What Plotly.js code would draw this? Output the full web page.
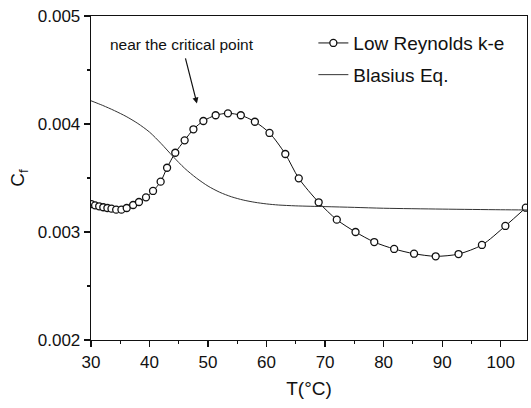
<!DOCTYPE html>
<html>
<head>
<meta charset="utf-8">
<script src="https://cdn.plot.ly/plotly-3.0.1.min.js"></script>
<style>html,body{margin:0;padding:0;background:#fff;}#chart{width:531px;height:408px;}</style>
</head>
<body>
<div id="chart"></div>
<script>
// Low Reynolds k-e model
var lowReT = [30.05, 30.7, 31.4, 32.1, 32.8, 33.5, 34.3, 35.2, 36.1, 37.2, 38.2, 39.4, 40.6, 41.9,
  43.0, 44.4, 46.0, 47.5, 49.2, 51.3, 53.4, 55.6, 58.0, 60.5, 63.2, 65.5, 68.9, 72.0, 75.2,
  78.4, 81.8, 85.2, 88.9, 92.8, 96.8, 100.8, 104.3];
var lowReCf = [0.003259, 0.003247, 0.003238, 0.003229, 0.003222, 0.003216, 0.003207, 0.003207,
  0.003222, 0.003250, 0.003278, 0.003321, 0.003380, 0.003466, 0.003595, 0.003734, 0.003849,
  0.003951, 0.004028, 0.004081, 0.004099, 0.004081, 0.004021, 0.003917, 0.003722, 0.003497,
  0.003275, 0.003114, 0.003000, 0.002907, 0.002843, 0.002799, 0.002775, 0.002796, 0.002880,
  0.003056, 0.003225];

// Blasius equation curve
var blasT = [30, 32, 34, 36, 38, 40, 42, 44, 46, 48, 50, 52, 54, 56, 58, 60, 62, 65, 70, 75, 80, 90, 100, 104.5];
var blasCf = [0.004215, 0.004172, 0.004124, 0.004070, 0.004005, 0.003925, 0.003818, 0.003700,
  0.003590, 0.003500, 0.003425, 0.003368, 0.003326, 0.003296, 0.003275, 0.003260, 0.003250,
  0.003242, 0.003235, 0.003228, 0.003220, 0.003212, 0.003206, 0.003204];

var seriesNames = ["Low Reynolds k-e", "Blasius Eq."];
var xTitle = "T(°C)";
var yTitle = "C<sub>f</sub>";
var noteText = "near the critical point";

var FONT = "Liberation Sans, Arial, Helvetica, sans-serif";

var traces = [
  {
    x: lowReT, y: lowReCf, name: seriesNames[0], type: "scatter", mode: "lines+markers",
    legendgroup: "a",
    line: {color: "#111", width: 1, shape: "spline", smoothing: 0.8},
    marker: {symbol: "circle", size: 7, color: "#fff", line: {color: "#111", width: 1.3}}
  },
  {
    x: blasT, y: blasCf, name: seriesNames[1], type: "scatter", mode: "lines",
    legendgroup: "b",
    line: {color: "#333", width: 1, shape: "spline", smoothing: 0.8}
  }
];

var layout = {
  width: 531, height: 408,
  margin: {l: 91, r: 4, t: 16, b: 68},
  paper_bgcolor: "#fff", plot_bgcolor: "#fff",
  font: {family: FONT, size: 17, color: "#111"},
  showlegend: true,
  legend: {
    x: 0.51, y: 0.975, xanchor: "left", yanchor: "top",
    bgcolor: "rgba(0,0,0,0)", borderwidth: 0,
    font: {family: FONT, size: 19, color: "#111"},
    tracegroupgap: 4
  },
  xaxis: {
    range: [30, 104.5], tick0: 30, dtick: 10,
    ticks: "outside", ticklen: 6, tickwidth: 1.2, tickcolor: "#111",
    showline: true, linecolor: "#111", linewidth: 1.3, mirror: true,
    showgrid: false, zeroline: false,
    tickfont: {family: FONT, size: 17, color: "#111"},
    minor: {dtick: 5, ticks: "outside", ticklen: 3, tickcolor: "#111", showgrid: false},
    title: {text: xTitle, font: {family: FONT, size: 19, color: "#111"}, standoff: 11}
  },
  yaxis: {
    range: [0.002, 0.005], tick0: 0.002, dtick: 0.001, tickformat: ".3f",
    ticks: "outside", ticklen: 6, tickwidth: 1.2, tickcolor: "#111",
    showline: true, linecolor: "#111", linewidth: 1.3, mirror: true,
    showgrid: false, zeroline: false,
    tickfont: {family: FONT, size: 17, color: "#111"},
    minor: {dtick: 0.0005, ticks: "outside", ticklen: 3, tickcolor: "#111", showgrid: false},
    title: {text: yTitle, font: {family: FONT, size: 19, color: "#111"}, standoff: 8}
  },
  annotations: [
    {
      x: 48.1, y: 0.00419, xref: "x", yref: "y",
      text: noteText, showarrow: true,
      ax: -15, ay: -59,
      arrowhead: 2, arrowsize: 1, arrowwidth: 1.2, arrowcolor: "#111",
      startstandoff: 4,
      font: {family: FONT, size: 15.5, color: "#111"}
    }
  ]
};

Plotly.newPlot("chart", traces, layout, {displayModeBar: false, staticPlot: true});
</script>
</body>
</html>
